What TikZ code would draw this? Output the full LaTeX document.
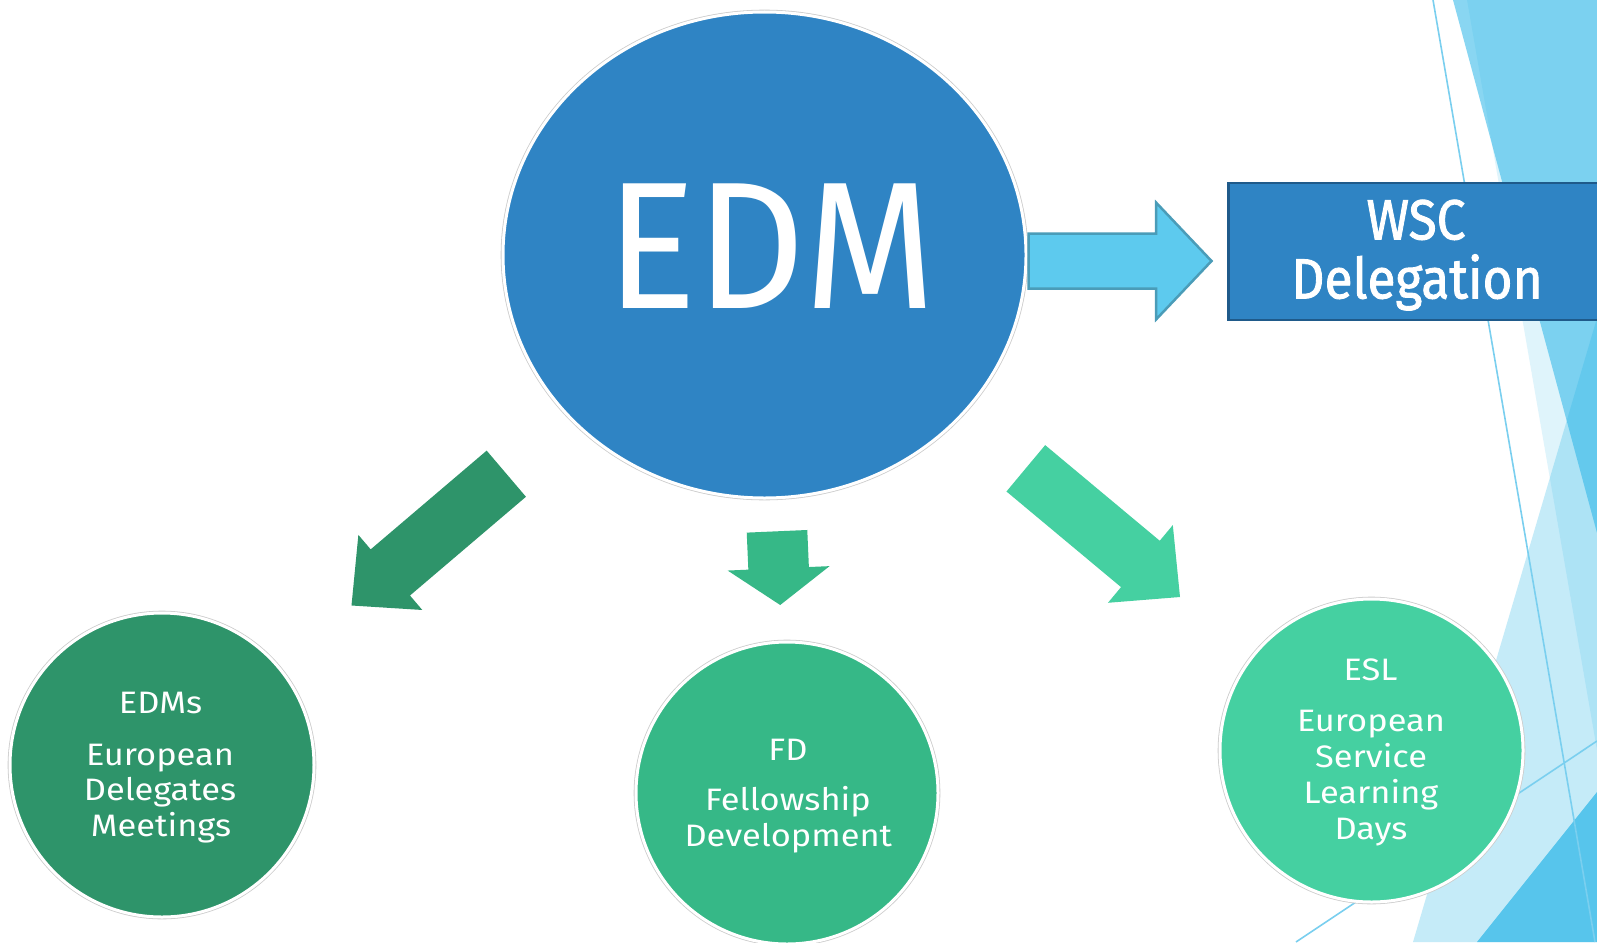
\documentclass[tikz,border=0pt]{standalone}
\usepackage{fontspec}
\usepackage{graphicx}
\setmainfont{Fira Sans}
\newfontfamily\wscfont[FakeBold=1.6]{Fira Sans}
\usetikzlibrary{calc,shapes.geometric}

\definecolor{edmblue}{HTML}{2F84C4}
\definecolor{wscborder}{HTML}{1F5A8A}
\definecolor{arrowblue}{HTML}{5DCAEE}
\definecolor{arrowblueborder}{HTML}{4A9CB8}
\definecolor{greenA}{HTML}{2E946A}
\definecolor{greenB}{HTML}{36B887}
\definecolor{greenC}{HTML}{45D0A1}
\definecolor{facet}{HTML}{29B6E8}
\definecolor{facetline}{HTML}{7ACFEF}

% #1 style, #2 tail coordinate, #3 tip coordinate, #4 half shaft width, #5 half head width, #6 head length
\newcommand{\fatarrow}[6]{%
  \coordinate (#2-neck) at ($(#3)!#6!(#2)$);
  \path[#1] ($(#2)!#4!90:(#3)$) -- ($(#2-neck)!#4!-90:(#2)$) -- ($(#2-neck)!#5!-90:(#2)$)
    -- (#3) -- ($(#2-neck)!#5!90:(#2)$) -- ($(#2-neck)!#4!90:(#2)$) -- ($(#2)!#4!-90:(#3)$) -- cycle;
}
\newcommand{\wideTxt}[1]{\scalebox{1.11}[1]{#1}}
\newcommand{\narrowTxt}[1]{\scalebox{0.91}[1]{#1}}

\tikzset{
  bubble/.style={inner sep=0pt, draw=white, line width=3pt, preaction={draw=black!20, line width=4.6pt}},
  lbl/.style={text=white, inner sep=0pt, anchor=base, font=\fontsize{31}{31}\selectfont},
  bigl/.style={text=white, inner sep=0pt, anchor=base, font=\fontsize{181}{181}\selectfont},
  boxl/.style={text=white, inner sep=0pt, anchor=base, font=\wscfont\fontsize{56.6}{56.6}\selectfont},
}

\begin{document}
\begin{tikzpicture}[x=1pt,y=-1pt]
\useasboundingbox (0,0) rectangle (1597,942);
\clip (0,0) rectangle (1597,942);
\fill[white] (0,0) rectangle (1597,942);

% facet background
\fill[facet, opacity=0.15] (1467,0) -- (1597,0) -- (1597,750) -- cycle;
\fill[facet, opacity=0.55] (1453,0) -- (1597,0) -- (1597,533) -- cycle;
\fill[facet, opacity=0.27] (1597,318) -- (1597,942) -- (1413,942) -- cycle;
\fill[facet, opacity=0.70] (1597,792) -- (1597,942) -- (1477,942) -- cycle;
\draw[facetline, line width=1.6pt] (1433,0) -- (1595,942);
\draw[facetline, line width=1.6pt] (1296,942) -- (1597,741);

% main shapes
\node[bubble, ellipse, fill=edmblue, minimum width=523pt, minimum height=486pt] (edm) at (764.5,255) {};
\node[bubble, circle, fill=greenA, minimum size=304pt] (edms) at (162,765) {};
\node[bubble, circle, fill=greenB, minimum size=302pt] (fd) at (787,793) {};
\node[bubble, circle, fill=greenC, minimum size=303pt] (esl) at (1371.5,750.5) {};
\node[draw=wscborder, fill=edmblue, line width=2.5pt, minimum width=390pt, minimum height=137pt, inner sep=0pt, anchor=west] (wsc) at (1227,251.5) {};

% block arrows
\coordinate (ra-tail) at (1028.6,261);
\coordinate (ra-tip) at (1211.5,261);
\fatarrow{fill=arrowblue, draw=arrowblueborder, line width=2.5pt}{ra-tail}{ra-tip}{27.5pt}{58.3pt}{55.3pt}

\coordinate (la-tail) at (506.3,473.7);
\coordinate (la-tip) at (351.5,605.5);
\fatarrow{fill=greenA}{la-tail}{la-tip}{30.3pt}{49.3pt}{51pt}

\coordinate (ma-tail) at (777,531.3);
\coordinate (ma-tip) at (780.2,605);
\fatarrow{fill=greenB}{ma-tail}{ma-tip}{30.3pt}{51pt}{36.7pt}

\coordinate (rb-tail) at (1025.8,468.3);
\coordinate (rb-tip) at (1180,597);
\fatarrow{fill=greenC}{rb-tail}{rb-tip}{30.2pt}{50.6pt}{51.6pt}

% texts
\node[bigl] (t-edm) at (771,308) {\scalebox{0.935}[1]{EDM}};
\node[boxl] (t-wsc1) at (1416,239.4) {\narrowTxt{WSC}};
\node[boxl] (t-wsc2) at (1417,298.4) {\narrowTxt{Delegation}};

\node[lbl] (t-edms1) at (160.5,713.3) {\wideTxt{EDMs}};
\node[lbl] (t-edms2) at (160,765) {\wideTxt{European}};
\node[lbl] (t-edms3) at (160,800.7) {\wideTxt{Delegates}};
\node[lbl] (t-edms4) at (161,836) {\wideTxt{Meetings}};

\node[lbl] (t-fd1) at (788,760) {\wideTxt{FD}};
\node[lbl] (t-fd2) at (788,810.7) {\wideTxt{Fellowship}};
\node[lbl] (t-fd3) at (788.3,846.7) {\wideTxt{Development}};

\node[lbl] (t-esl1) at (1370.5,680) {\wideTxt{ESL}};
\node[lbl] (t-esl2) at (1371,731.7) {\wideTxt{European}};
\node[lbl] (t-esl3) at (1371,767.5) {\wideTxt{Service}};
\node[lbl] (t-esl4) at (1371,803.5) {\wideTxt{Learning}};
\node[lbl] (t-esl5) at (1371,839.5) {\wideTxt{Days}};
\end{tikzpicture}
\end{document}
